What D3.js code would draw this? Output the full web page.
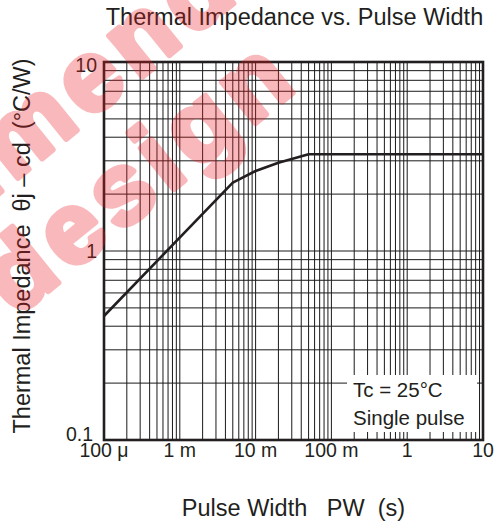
<!DOCTYPE html>
<html><head><meta charset="utf-8">
<script src="https://cdn.jsdelivr.net/npm/d3@7"></script>
<style>
body{margin:0;background:#fff;}
svg{display:block;font-family:"Liberation Sans",Arial,Helvetica,sans-serif;}
text{white-space:pre;}
</style></head>
<body><div id="chart"></div>
<script>
// ---- data ----
const pulseWidth = [1e-4, 5e-3, 1e-2, 2e-2, 5e-2, 10];          // s
const impedance  = [0.453, 2.3, 2.65, 2.93, 3.25, 3.25];       // °C/W
const xTickValues = [1e-4, 1e-3, 1e-2, 1e-1, 1, 10];
const xTickLabels = ["100 μ", "1 m", "10 m", "100 m", "1", "10"];
const yTickValues = [0.1, 1, 10];
const yTickLabels = ["0.1", "1", "10"];
const legendLines = ["Tc = 25°C", "Single pulse"];
const titleText = "Thermal Impedance vs. Pulse Width";
const xLabelText = "Pulse Width   PW  (s)";
const yLabelText = "Thermal Impedance  θj – cd  (°C/W)";
const watermarkLines = ["recommended", "design"];

// ---- layout ----
const W = 502, H = 529;
const m = {left:104, right:19, top:62, bottom:89};
const ink = "#231f20";

const svg = d3.select("#chart").append("svg").attr("width", W).attr("height", H);
const x = d3.scaleLog().domain([1e-4, 10]).range([m.left, W - m.right]);
const y = d3.scaleLog().domain([0.1, 10]).range([H - m.bottom, m.top]);

// grid
const g = svg.append("g");
g.selectAll("line.vx").data(x.ticks()).join("line")
  .attr("x1", d => x(d)).attr("x2", d => x(d))
  .attr("y1", y(0.1)).attr("y2", y(10))
  .attr("stroke", "#1a1a1a").attr("stroke-width", 1);
g.selectAll("line.hy").data(y.ticks()).join("line")
  .attr("y1", d => y(d)).attr("y2", d => y(d))
  .attr("x1", x(1e-4)).attr("x2", x(10))
  .attr("stroke", "#1a1a1a").attr("stroke-width", 1);

// legend white box
svg.append("rect").attr("x", 347).attr("y", 375).attr("width", 130).attr("height", 57).attr("fill", "#fff");
svg.selectAll("text.leg").data(legendLines).join("text")
  .attr("x", 353).attr("y", (d, i) => 397 + i * 28)
  .attr("font-size", 20.5).attr("fill", ink).text(d => d);

// curve
const line = d3.line().x((d, i) => x(pulseWidth[i])).y(d => y(d));
svg.append("path").datum(impedance).attr("d", line)
  .attr("fill", "none").attr("stroke", ink).attr("stroke-width", 2.6)
  .attr("stroke-linejoin", "round");

// frame
svg.append("rect").attr("x", x(1e-4)).attr("y", y(10))
  .attr("width", x(10) - x(1e-4)).attr("height", y(0.1) - y(10))
  .attr("fill", "none").attr("stroke", ink).attr("stroke-width", 2.6);

// tick labels
svg.selectAll("text.xt").data(xTickValues).join("text")
  .attr("x", d => x(d)).attr("y", y(0.1) + 17)
  .attr("text-anchor", "middle").attr("font-size", 19.5).attr("fill", ink)
  .text((d, i) => xTickLabels[i]);
svg.selectAll("text.yt").data(yTickValues).join("text")
  .attr("x", d => d === 0.1 ? m.left - 11 : m.left - 7)
  .attr("y", d => Math.max(m.top + 10, Math.min(y(d) + 7, y(0.1) + 1)))
  .attr("text-anchor", "end").attr("font-size", 19.5).attr("fill", ink)
  .text((d, i) => yTickLabels[i]);

// titles
svg.append("text").attr("x", (x(1e-4) + x(10)) / 2 + 1).attr("y", 25)
  .attr("text-anchor", "middle").attr("font-size", 23.5).attr("fill", ink).text(titleText);
svg.append("text").attr("x", (x(1e-4) + x(10)) / 2).attr("y", 516)
  .attr("text-anchor", "middle").attr("font-size", 23.5).attr("fill", ink).text(xLabelText);
svg.append("text").attr("transform", "translate(30,246) rotate(-90)")
  .attr("text-anchor", "middle").attr("font-size", 23.5).attr("fill", ink).text(yLabelText);

// watermark
const wm = svg.append("g").attr("transform", "translate(16,317) rotate(-39)")
  .attr("opacity", 0.3)
  .attr("fill", "rgb(237,28,36)").attr("stroke", "rgb(237,28,36)")
  .attr("stroke-width", 6).attr("stroke-linejoin", "round")
  .attr("font-weight", "bold").attr("font-size", 100).attr("letter-spacing", 8);
wm.append("text").attr("x", -258).attr("y", -107).text(watermarkLines[0]);
wm.append("text").attr("x", 0).attr("y", 0).text(watermarkLines[1]);
</script></body></html>
